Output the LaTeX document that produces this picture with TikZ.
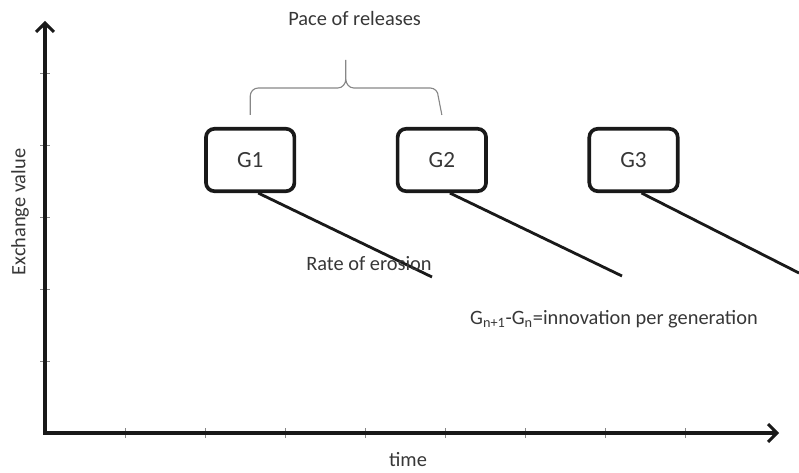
\documentclass[tikz,border=0pt]{standalone}
\usepackage{fontspec}
\setmainfont{Carlito}
\definecolor{axisblack}{RGB}{25, 25, 25}
\definecolor{labelgray}{RGB}{55, 55, 55}
\definecolor{bracegray}{RGB}{135, 135, 135}
\usetikzlibrary{arrows.meta, positioning, calc}

\begin{document}
\begin{tikzpicture}[
  gen/.style={draw=axisblack, line width=2.6pt, rounded corners=6pt, minimum width=2.21cm, minimum height=1.56cm, font=\fontsize{16.5}{18}\selectfont, text=labelgray},
  erosion/.style={draw=axisblack, line width=2pt},
  axis/.style={{Straight Barb[length=2.2mm, width=4.5mm]}-{Straight Barb[length=2.2mm, width=4.5mm]}, line width=2.2pt, axisblack},
  tick/.style={bracegray, line width=0.5pt},
  lbl/.style={font=\fontsize{14.5}{16}\selectfont, text=labelgray, inner sep=0pt}
]
  \useasboundingbox (-1.125,-0.975) rectangle (18.85,10.825);

  % Axes
  \foreach \x in {1,...,8} \draw[tick] (2*\x,-0.12) -- (2*\x,0.12);
  \foreach \y in {1,...,5} \draw[tick] (-0.12,1.8*\y) -- (0.12,1.8*\y);
  \coordinate (ytop) at (0,10.3);
  \coordinate (xend) at (18.35,0);
  \draw[axis] (ytop) |- (xend);
  \node[lbl] (time) at (9.075,-0.675) {time};
  \node[lbl, rotate=90] (value) at (-0.625,5.525) {Exchange value};

  % Generations
  \node[gen] (g1) at (5.13,6.825) {G1};
  \node[gen, right=2.49cm of g1] (g2) {G2};
  \node[gen, right=2.49cm of g2] (g3) {G3};

  % Erosion lines
  \coordinate (e1) at (9.675,3.9);
  \coordinate (e2) at (14.425,3.925);
  \coordinate (e3) at (18.85,4.0);
  \draw[erosion] ([xshift=2mm]g1.south) -- (e1);
  \draw[erosion] ([xshift=2mm]g2.south) -- (e2);
  \draw[erosion] ([xshift=2mm]g3.south) -- (e3);
  \node[lbl] (rate) at (8.1,4.225) {Rate of erosion};
  \node[lbl] (innov) at (14.225,2.85) {G\textsubscript{n+1}-G\textsubscript{n}=innovation per generation};

  % Pace brace
  \draw[bracegray, line width=0.8pt] ([yshift=3mm]g1.north) -- (5.13,8.42) to[out=90, in=180] (5.33,8.625) -- (7.32,8.625) to[out=0, in=-90] (7.52,8.85) -- (7.52,9.325) -- (7.52,8.85) to[out=-90, in=180] (7.72,8.625) -- (9.63,8.625) to[out=0, in=90] (9.83,8.42) -- ([yshift=3mm]g2.north);
  \node[lbl] (pace) at (7.74,10.35) {Pace of releases};
\end{tikzpicture}
\end{document}
